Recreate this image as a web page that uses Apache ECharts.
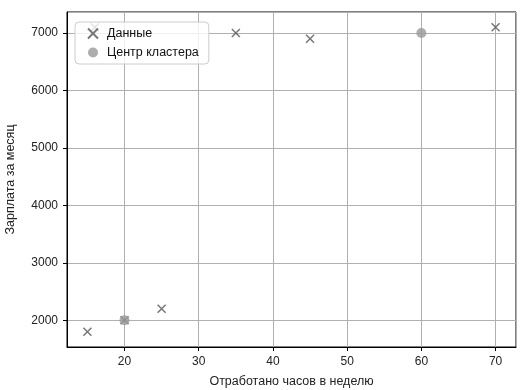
<!DOCTYPE html>
<html>
<head>
<meta charset="utf-8">
<script src="https://cdn.jsdelivr.net/npm/echarts@6/dist/echarts.min.js"></script>
<style>html,body{margin:0;padding:0;background:#fff}#c{width:522px;height:390px}</style>
</head>
<body>
<div id="c"></div>
<script>
const hours = [15, 20, 25, 16, 35, 45, 70];
const salary = [1800, 2000, 2200, 7100, 7000, 6900, 7100];
const centerHours = [20, 60];
const centerSalary = [2000, 7000];
const xName = 'Отработано часов в неделю';
const yName = 'Зарплата за месяц';
const dataName = 'Данные';
const centerName = 'Центр кластера';

const font = 'Liberation Sans, Arial, sans-serif';
const chart = echarts.init(document.getElementById('c'));
const xPath = 'path://M0,0L10,10M10,0L0,10';
chart.setOption({
  animation: false,
  grid: {left: 67, right: 6, top: 12, bottom: 43, show: true, borderColor: '#000', borderWidth: 1,
    containLabel: false, outerBoundsMode: 'none'},
  xAxis: {
    type: 'value', min: 12.25, max: 72.75, splitNumber: 5,
    name: xName, nameLocation: 'middle', nameGap: 28,
    nameTextStyle: {fontFamily: font, fontSize: 12.5, color: '#222'},
    axisLine: {show: true, lineStyle: {color: '#000'}},
    axisTick: {show: true, inside: false, length: 4, lineStyle: {color: '#000'}},
    axisLabel: {fontFamily: font, fontSize: 12, color: '#222', margin: 9, showMinLabel: false, showMaxLabel: false},
    splitLine: {show: true, lineStyle: {color: '#b0b0b0', width: 1}}
  },
  yAxis: {
    type: 'value', min: 1535, max: 7365, splitNumber: 5,
    name: yName, nameLocation: 'middle', nameGap: 50, nameRotate: 90,
    nameTextStyle: {fontFamily: font, fontSize: 12.5, color: '#222'},
    axisLine: {show: true, lineStyle: {color: '#000'}},
    axisTick: {show: true, inside: false, length: 4, lineStyle: {color: '#000'}},
    axisLabel: {fontFamily: font, fontSize: 12, color: '#222', margin: 9, showMinLabel: false, showMaxLabel: false,
      formatter: v => String(v)},
    splitLine: {show: true, lineStyle: {color: '#b0b0b0', width: 1}}
  },
  legend: {
    left: 75, top: 22, orient: 'vertical',
    backgroundColor: 'rgba(255,255,255,0.8)', borderColor: '#ccc', borderWidth: 1, borderRadius: 4,
    padding: [5, 10, 5, 12], itemGap: 6, itemWidth: 10, itemHeight: 10,
    textStyle: {fontFamily: font, fontSize: 12.5, color: '#111', padding: [0, 0, 0, 4]},
    data: [dataName, centerName]
  },
  series: [
    {
      name: dataName, type: 'scatter', symbol: xPath, symbolSize: 8,
      itemStyle: {color: 'transparent', borderColor: '#555', borderWidth: 1.5},
      data: hours.map((h, i) => [h, salary[i]])
    },
    {
      name: centerName, type: 'scatter', symbol: 'circle', symbolSize: 10,
      itemStyle: {color: '#999'},
      data: centerHours.map((h, i) => [h, centerSalary[i]])
    }
  ]
});
</script>
</body>
</html>
